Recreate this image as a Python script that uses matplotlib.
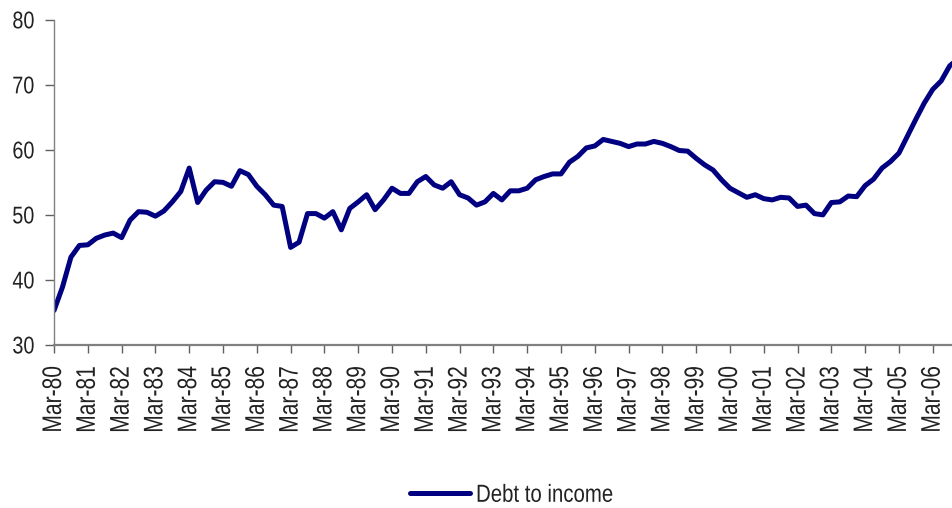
import matplotlib
matplotlib.use("Agg")
import matplotlib.pyplot as plt
from matplotlib.patheffects import AbstractPathEffect
from matplotlib.transforms import Affine2D

# debt to income ratio, quarterly from Mar-80
debt_to_income = [
    35.3, 38.9, 43.5, 45.3, 45.4, 46.4, 46.9, 47.2, 46.5, 49.2,
    50.5, 50.4, 49.8, 50.6, 52.0, 53.6, 57.2, 51.9, 53.8, 55.1,
    55.0, 54.4, 56.8, 56.2, 54.4, 53.1, 51.5, 51.3, 45.0, 45.8,
    50.2, 50.2, 49.5, 50.5, 47.7, 51.0, 52.0, 53.1, 50.8, 52.3,
    54.1, 53.3, 53.3, 55.1, 55.9, 54.6, 54.1, 55.1, 53.1, 52.6,
    51.5, 52.0, 53.3, 52.3, 53.7, 53.7, 54.1, 55.4, 55.9, 56.3,
    56.3, 58.1, 59.0, 60.3, 60.6, 61.6, 61.3, 61.0, 60.5, 60.9,
    60.9, 61.3, 61.0, 60.5, 59.9, 59.8, 58.7, 57.7, 56.9, 55.4,
    54.1, 53.4, 52.7, 53.1, 52.5, 52.3, 52.7, 52.6, 51.3, 51.5,
    50.2, 50.0, 51.9, 52.0, 52.9, 52.8, 54.5, 55.5, 57.2, 58.2,
    59.5, 62.1, 64.7, 67.2, 69.3, 70.6, 72.9, 74.0,
]
quarters = list(range(len(debt_to_income)))
years = list(range(1980, 2007))
tick_labels = ["Mar-%02d" % (y % 100) for y in years]
tick_pos = [4 * i for i in range(len(years))]


class Narrow(AbstractPathEffect):
    """squeeze glyphs along the text direction (no narrow font installed)"""
    def __init__(self, sx, anchor='left'):
        super().__init__()
        self.sx = sx
        self.anchor = anchor

    def draw_path(self, renderer, gc, tpath, affine, rgbFace=None):
        xs = tpath.vertices[:, 0]
        if self.anchor == 'right':
            x0 = xs.max()
        elif self.anchor == 'center':
            x0 = (xs.min() + xs.max()) / 2
        else:
            x0 = 0
        pre = Affine2D().translate(-x0, 0).scale(self.sx, 1).translate(x0, 0)
        renderer.draw_path(gc, tpath, pre + affine, rgbFace)


plt.rcParams['font.family'] = ['Liberation Sans', 'DejaVu Sans']

fig = plt.figure(figsize=(9.53, 5.08), dpi=100)
ax = fig.add_axes([0.0567, 0.321, 0.9433, 0.640])

ax.plot(quarters, debt_to_income, color='#000080', lw=3.6,
        solid_capstyle='round', solid_joinstyle='round', label='Debt to income')

ax.set_ylim(30, 80)
ax.set_xlim(0, 106.4)
ax.set_yticks([30, 40, 50, 60, 70, 80])
ax.set_xticks(tick_pos)
ax.set_xticklabels(tick_labels, rotation=90)

for s in ['top', 'right']:
    ax.spines[s].set_visible(False)
ax.spines['left'].set_color('#808080')
ax.spines['left'].set_linewidth(1.0)
ax.spines['bottom'].set_color('#808080')
ax.spines['bottom'].set_linewidth(1.6)

ax.tick_params(axis='y', length=6.5, width=1, color='#606060',
               labelsize=17.4, pad=7.5, labelcolor='#222222')
ax.tick_params(axis='x', length=6, width=1, color='#606060',
               labelsize=19.4, pad=9, labelcolor='#222222')

for lab in ax.get_yticklabels():
    lab.set_path_effects([Narrow(0.82, 'right')])
for lab in ax.get_xticklabels():
    lab.set_path_effects([Narrow(0.78, 'right')])

leg = fig.legend(loc='center left', bbox_to_anchor=(410 / 953, 0.026),
                 frameon=False, fontsize=17.8, handlelength=2.43,
                 handletextpad=0.24, borderpad=0, borderaxespad=0)
for t in leg.get_texts():
    t.set_path_effects([Narrow(0.825, 'left')])
    t.set_color('#222222')

fig.savefig('out.png', dpi=100)
